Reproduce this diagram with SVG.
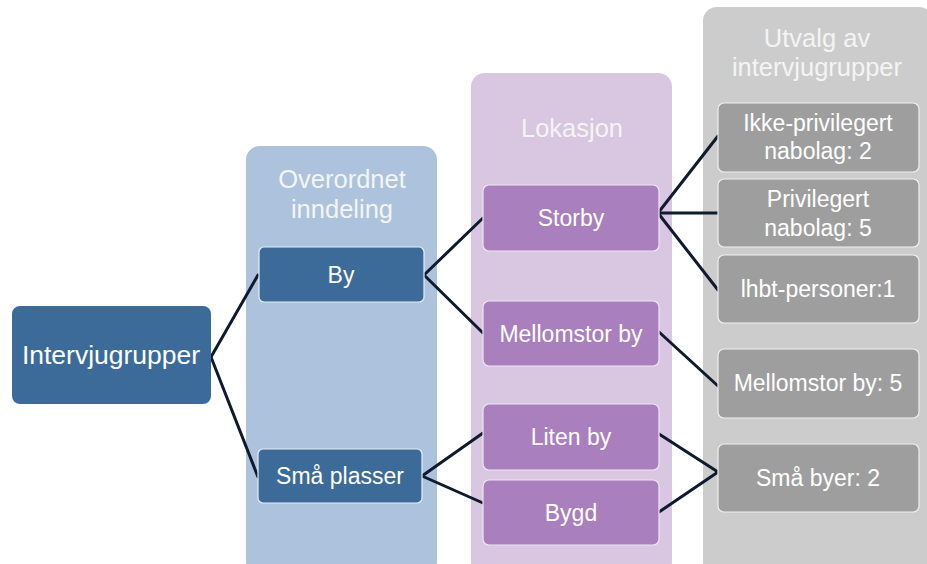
<svg xmlns="http://www.w3.org/2000/svg" width="927" height="564" viewBox="0 0 927 564">
<style>
text{font-family:"Liberation Sans",Arial,sans-serif;fill:#ffffff;text-anchor:middle;}
.hdr{font-size:25.5px;fill:#f4f4f4;}
.lbl{font-size:23px;}
.blue{fill:#3d6b99;stroke:#e6eef6;stroke-width:1.2;}
.purple{fill:#a97fbd;stroke:#f0e6f4;stroke-width:1.2;}
.gray{fill:#9e9e9e;stroke:#efefef;stroke-width:1.2;}
.conn line{stroke:#0f1a2e;stroke-width:3;stroke-linecap:round;}
</style>
<rect width="927" height="564" fill="#ffffff"/>
<g id="col-overordnet">
<rect x="246" y="146" width="191" height="430" rx="14" fill="#adc2dc"/>
<text class="hdr" x="342" y="188">Overordnet</text>
<text class="hdr" x="342" y="218">inndeling</text>
</g>
<g id="col-lokasjon">
<rect x="471" y="73" width="201" height="503" rx="14" fill="#d9c6e1"/>
<text class="hdr" x="572" y="137">Lokasjon</text>
</g>
<g id="col-utvalg">
<rect x="703" y="7" width="230" height="569" rx="14" fill="#cccccc"/>
<text class="hdr" x="817" y="47">Utvalg av</text>
<text class="hdr" x="817" y="76">intervjugrupper</text>
</g>
<g class="conn" id="connectors">
<line x1="211" y1="357" x2="258" y2="275"/>
<line x1="211" y1="357" x2="258" y2="477"/>
<line x1="424" y1="275" x2="483" y2="218"/>
<line x1="424" y1="275" x2="483" y2="333"/>
<line x1="422" y1="476" x2="483" y2="433"/>
<line x1="422" y1="476" x2="483" y2="503"/>
<line x1="658" y1="213" x2="718" y2="136"/>
<line x1="658" y1="213" x2="718" y2="213"/>
<line x1="658" y1="213" x2="718" y2="290"/>
<line x1="659" y1="332" x2="718" y2="386"/>
<line x1="659" y1="434" x2="718" y2="472"/>
<line x1="659" y1="512" x2="718" y2="472"/>
</g>
<g id="intervjugrupper">
<rect x="12" y="306" width="199" height="98" rx="8" fill="#3d6b99"/>
<text x="111" y="364" style="font-size:26.5px">Intervjugrupper</text>
</g>
<g id="by">
<rect class="blue" x="259" y="247" width="165" height="55" rx="5"/>
<text class="lbl" x="341" y="283">By</text>
</g>
<g id="sma-plasser">
<rect class="blue" x="258" y="449" width="164" height="54" rx="5"/>
<text class="lbl" x="340" y="484">Små plasser</text>
</g>
<g id="storby">
<rect class="purple" x="483" y="185" width="176" height="66" rx="6"/>
<text class="lbl" x="571" y="226">Storby</text>
</g>
<g id="mellomstor-by">
<rect class="purple" x="483" y="301" width="176" height="65" rx="6"/>
<text class="lbl" x="571" y="342">Mellomstor by</text>
</g>
<g id="liten-by">
<rect class="purple" x="483" y="404" width="176" height="66" rx="6"/>
<text class="lbl" x="571" y="445">Liten by</text>
</g>
<g id="bygd">
<rect class="purple" x="483" y="480" width="176" height="65" rx="6"/>
<text class="lbl" x="571" y="521">Bygd</text>
</g>
<g id="ikke-privilegert">
<rect class="gray" x="718" y="103" width="201" height="69" rx="6"/>
<text class="lbl" x="818" y="131">Ikke-privilegert</text>
<text class="lbl" x="818" y="159">nabolag: 2</text>
</g>
<g id="privilegert">
<rect class="gray" x="718" y="179" width="201" height="68" rx="6"/>
<text class="lbl" x="818" y="207">Privilegert</text>
<text class="lbl" x="818" y="236">nabolag: 5</text>
</g>
<g id="lhbt">
<rect class="gray" x="718" y="255" width="201" height="68" rx="6"/>
<text class="lbl" x="818" y="297">lhbt-personer:1</text>
</g>
<g id="mellomstor-by-5">
<rect class="gray" x="718" y="349" width="201" height="69" rx="6"/>
<text class="lbl" x="818" y="391">Mellomstor by: 5</text>
</g>
<g id="sma-byer">
<rect class="gray" x="718" y="444" width="201" height="68" rx="6"/>
<text class="lbl" x="818" y="486">Små byer: 2</text>
</g>
</svg>
